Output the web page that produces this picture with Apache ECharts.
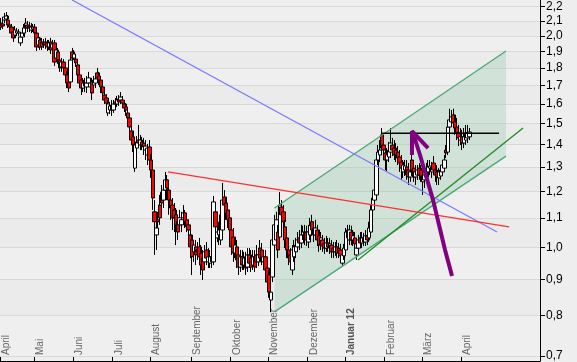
<!DOCTYPE html>
<html>
<head>
<meta charset="utf-8">
<script src="https://cdn.jsdelivr.net/npm/echarts@6/dist/echarts.min.js"></script>
<style>
html,body{margin:0;padding:0;background:#eeeeee;}
#c{width:577px;height:362px;}
</style>
</head>
<body>
<div id="c"></div>
<script>
// ---- calendar ----
const START_DATE = '2011-04-01';
const HOLIDAYS = ['2011-04-22','2011-04-25','2011-12-26','2012-04-06','2012-04-09'];
const N_SLOTS = 302;
const MONTH_NAMES = ['Januar','Februar','März','April','Mai','Juni','Juli','August','September','Oktober','November','Dezember'];
const Y_TICKS = [0.7,0.8,0.9,1.0,1.1,1.2,1.3,1.4,1.5,1.6,1.7,1.8,1.9,2.0,2.1,2.2];
const Y_MIN = 0.6886, Y_MAX = 2.249;

// ---- daily prices ----
const opens = [2.085,2.079,2.106,2.113,2.106,2.072,2.058,2.025,2.005,2.018,
2.018,1.954,1.992,2.018,2.052,2.072,2.065,2.038,2.045,2.058,
2.018,1.941,1.973,1.960,1.941,1.960,1.954,1.928,1.960,1.922,
1.954,1.859,1.897,1.847,1.806,1.835,1.800,1.759,1.719,1.719,
1.897,1.859,1.853,1.818,1.759,1.730,1.685,1.713,1.691,1.713,
1.691,1.719,1.702,1.713,1.771,1.753,1.730,1.691,1.647,1.631,
1.553,1.568,1.594,1.568,1.610,1.599,1.626,1.620,1.620,1.599,
1.584,1.553,1.528,1.464,1.436,1.296,1.384,1.421,1.398,1.412,
1.407,1.375,1.353,1.389,1.331,1.288,1.123,1.041,1.094,1.148,
1.198,1.167,1.206,1.247,1.206,1.167,1.148,1.130,1.112,1.087,
1.076,1.076,1.101,1.119,1.094,1.076,1.041,1.024,0.985,1.001,
0.991,1.001,0.981,0.965,0.953,0.991,0.953,0.949,0.969,0.953,
1.123,1.031,1.041,1.024,1.058,1.179,1.156,1.130,1.101,1.058,
1.034,0.981,1.001,0.975,0.937,0.969,0.943,0.965,0.937,0.975,
0.965,0.943,0.969,0.975,0.953,0.997,0.991,0.953,0.969,0.934,
0.913,0.841,0.907,1.007,1.024,1.051,1.034,1.141,1.123,1.069,
1.031,0.991,0.975,0.928,0.969,0.985,1.001,1.031,1.014,1.041,
1.031,1.051,1.017,1.041,1.087,1.065,1.041,1.058,1.038,1.007,
1.024,1.011,0.997,1.014,1.001,1.007,0.997,0.985,1.001,0.997,
0.991,0.949,0.972,0.991,1.058,1.024,1.051,1.024,1.031,0.975,
0.997,1.031,1.014,1.031,1.017,1.038,1.031,1.051,1.130,1.167,
1.187,1.331,1.353,1.445,1.398,1.362,1.331,1.344,1.366,1.398,
1.384,1.375,1.366,1.344,1.322,1.280,1.288,1.301,1.288,1.259,
1.331,1.296,1.259,1.267,1.296,1.288,1.239,1.247,1.259,1.280,
1.296,1.280,1.318,1.288,1.280,1.255,1.263,1.280,1.296,1.375,
1.366,1.483,1.508,1.543,1.508,1.483,1.455,1.421,1.436,1.407,
1.421,1.431,1.436];
const closes = [2.058,2.065,2.127,2.134,2.072,2.058,2.018,1.986,2.038,2.031,
2.025,1.992,2.018,2.052,2.085,2.052,2.052,2.058,2.058,2.018,
1.928,1.986,1.928,1.928,1.954,1.941,1.928,1.954,1.909,1.947,
1.835,1.909,1.847,1.800,1.835,1.800,1.759,1.713,1.685,1.847,
1.859,1.884,1.830,1.759,1.713,1.685,1.713,1.696,1.713,1.742,
1.713,1.658,1.730,1.736,1.742,1.730,1.691,1.658,1.620,1.604,
1.599,1.589,1.568,1.599,1.599,1.620,1.610,1.636,1.604,1.578,
1.568,1.528,1.483,1.421,1.398,1.398,1.412,1.407,1.421,1.398,
1.389,1.393,1.384,1.331,1.288,1.175,1.087,1.065,1.087,1.101,
1.156,1.206,1.247,1.214,1.167,1.137,1.101,1.101,1.076,1.051,
1.101,1.094,1.119,1.087,1.069,1.058,1.001,0.969,1.007,0.975,
0.985,0.969,0.943,0.928,0.985,0.965,0.969,0.969,0.953,1.160,
1.069,1.051,1.058,1.112,1.167,1.148,1.119,1.094,1.058,1.001,
0.981,1.007,0.959,0.937,0.969,0.943,0.965,0.934,0.975,0.949,
0.937,0.969,0.937,0.953,0.975,0.965,0.965,0.969,0.928,0.892,
0.863,0.863,1.024,1.076,1.094,0.991,1.148,1.112,1.087,1.024,
0.991,0.965,0.953,0.991,1.001,1.007,1.024,1.014,1.041,1.051,
1.051,1.024,1.051,1.073,1.058,1.041,1.065,1.024,1.007,1.031,
1.004,0.997,1.014,1.001,1.011,0.985,0.985,1.001,0.981,0.981,
0.972,0.975,0.997,1.051,1.031,1.058,1.024,1.038,1.011,0.997,
1.024,1.014,1.031,1.017,1.038,1.024,1.065,1.130,1.175,1.206,
1.331,1.366,1.375,1.384,1.375,1.331,1.353,1.375,1.407,1.375,
1.353,1.353,1.340,1.318,1.296,1.309,1.305,1.267,1.259,1.280,
1.288,1.259,1.280,1.288,1.267,1.263,1.263,1.267,1.288,1.301,
1.305,1.301,1.288,1.267,1.259,1.280,1.288,1.309,1.331,1.362,
1.483,1.518,1.533,1.503,1.478,1.455,1.431,1.436,1.407,1.436,
1.455,1.455,1.459];
const lows = [2.038,2.045,2.085,2.092,2.052,2.038,1.998,1.960,1.986,1.998,
1.998,1.935,1.973,1.998,2.031,2.025,2.025,2.018,2.025,1.998,
1.903,1.922,1.909,1.909,1.922,1.916,1.903,1.909,1.884,1.897,
1.812,1.835,1.824,1.777,1.777,1.765,1.730,1.685,1.663,1.702,
1.835,1.847,1.806,1.742,1.685,1.647,1.663,1.663,1.658,1.696,
1.663,1.620,1.674,1.685,1.719,1.702,1.658,1.620,1.599,1.578,
1.538,1.548,1.538,1.553,1.578,1.584,1.589,1.599,1.584,1.558,
1.538,1.508,1.459,1.398,1.366,1.280,1.366,1.384,1.375,1.375,
1.353,1.331,1.309,1.305,1.255,1.130,0.975,0.991,1.065,1.076,
1.112,1.137,1.187,1.167,1.112,1.094,1.058,1.051,1.007,1.024,
1.051,1.051,1.076,1.065,1.051,1.024,0.965,0.913,0.953,0.943,
0.959,0.943,0.913,0.898,0.934,0.943,0.934,0.934,0.934,0.943,
1.041,1.017,1.007,1.007,1.041,1.130,1.094,1.065,1.031,0.975,
0.953,0.965,0.934,0.913,0.922,0.928,0.928,0.913,0.922,0.934,
0.922,0.928,0.922,0.934,0.940,0.953,0.943,0.934,0.913,0.875,
0.847,0.808,0.892,0.991,1.007,0.965,1.017,1.087,1.065,0.997,
0.965,0.943,0.928,0.913,0.953,0.965,0.985,0.991,0.997,1.024,
1.007,1.004,0.997,1.024,1.038,1.017,1.024,1.004,0.985,0.991,
0.985,0.978,0.985,0.985,0.978,0.965,0.965,0.972,0.965,0.965,
0.953,0.940,0.959,0.978,1.017,1.007,1.007,1.004,0.991,0.959,
0.985,0.997,0.997,1.004,1.004,1.007,1.017,1.038,1.116,1.148,
1.175,1.309,1.322,1.353,1.340,1.288,1.280,1.322,1.340,1.348,
1.331,1.322,1.309,1.280,1.247,1.255,1.263,1.247,1.226,1.239,
1.263,1.239,1.226,1.247,1.247,1.239,1.187,1.214,1.235,1.255,
1.267,1.255,1.267,1.239,1.226,1.226,1.247,1.263,1.280,1.340,
1.353,1.469,1.488,1.478,1.445,1.421,1.393,1.398,1.375,1.384,
1.398,1.407,1.421];
const highs = [2.120,2.113,2.155,2.162,2.141,2.099,2.079,2.052,2.065,2.052,
2.045,2.018,2.038,2.079,2.120,2.099,2.092,2.085,2.079,2.079,
2.038,2.018,1.992,1.986,1.979,1.986,1.973,1.973,1.986,1.973,
1.973,1.935,1.922,1.872,1.859,1.853,1.824,1.782,1.742,1.872,
1.922,1.909,1.878,1.835,1.788,1.759,1.742,1.742,1.753,1.777,
1.742,1.742,1.753,1.765,1.800,1.777,1.753,1.708,1.674,1.652,
1.620,1.610,1.620,1.620,1.631,1.642,1.647,1.663,1.642,1.620,
1.604,1.578,1.543,1.488,1.459,1.417,1.440,1.493,1.445,1.436,
1.431,1.421,1.403,1.421,1.357,1.309,1.167,1.087,1.123,1.187,
1.226,1.222,1.280,1.267,1.235,1.187,1.175,1.156,1.137,1.112,
1.130,1.123,1.148,1.130,1.112,1.094,1.065,1.041,1.024,1.024,
1.017,1.031,1.007,0.991,1.007,1.017,0.997,0.991,0.991,1.183,
1.148,1.076,1.087,1.148,1.235,1.206,1.175,1.148,1.123,1.076,
1.065,1.031,1.024,0.997,0.991,0.991,0.985,0.985,0.997,0.997,
0.991,0.991,0.991,1.007,0.997,1.024,1.014,0.991,0.991,0.953,
0.928,0.884,1.051,1.112,1.123,1.076,1.198,1.167,1.148,1.094,
1.051,1.007,0.997,1.007,1.024,1.031,1.051,1.058,1.076,1.073,
1.076,1.073,1.076,1.101,1.112,1.087,1.094,1.076,1.058,1.051,
1.041,1.031,1.038,1.031,1.031,1.024,1.017,1.017,1.024,1.014,
1.011,0.991,1.011,1.065,1.076,1.076,1.073,1.058,1.051,1.014,
1.041,1.051,1.051,1.048,1.058,1.058,1.087,1.148,1.198,1.226,
1.353,1.398,1.421,1.478,1.445,1.398,1.384,1.412,1.478,1.431,
1.421,1.407,1.393,1.375,1.353,1.331,1.331,1.331,1.318,1.309,
1.353,1.331,1.309,1.309,1.318,1.309,1.288,1.288,1.318,1.331,
1.331,1.322,1.348,1.318,1.309,1.296,1.309,1.331,1.353,1.398,
1.518,1.575,1.568,1.575,1.543,1.528,1.493,1.478,1.469,1.478,
1.493,1.493,1.478];

// ---- drawn studies: [trading-day position, price] ----
const blueLine = [[40.3, 2.249], [278.0, 1.051]];
const redLine = [[94.0, 1.280], [284.7, 1.069]];
const channelUpper = [[153.5, 1.137], [283.0, 1.903]];
const channelLower = [[153.5, 0.809], [283.0, 1.348]];
const greenLine = [[200.2, 0.959], [292.5, 1.478]];
const blackLine = [[213.6, 1.453], [279.1, 1.453]];
const arrowShaft = [[252.8, 0.910], [248.9, 0.991], [242.2, 1.167], [234.9, 1.353], [231.0, 1.453]];
const arrowHead = [[230.4, 1.353], [230.4, 1.463], [239.4, 1.384]];

// ---- build categories ----
function pad(n){return n<10?'0'+n:''+n;}
const categories = [];
(function(){
  const d = new Date(START_DATE + 'T00:00:00Z');
  while (categories.length < N_SLOTS) {
    const wd = d.getUTCDay();
    const s = d.getUTCFullYear()+'-'+pad(d.getUTCMonth()+1)+'-'+pad(d.getUTCDate());
    if (wd !== 0 && wd !== 6 && HOLIDAYS.indexOf(s) < 0) categories.push(s);
    d.setUTCDate(d.getUTCDate()+1);
  }
})();
function isMonthStart(i){
  if (i >= opens.length) return false;
  if (i === 0) return true;
  return categories[i].slice(0,7) !== categories[i-1].slice(0,7);
}
const candleData = opens.map((o,i)=>[o, closes[i], lows[i], highs[i]]);

const chart = echarts.init(document.getElementById('c'), null, {renderer:'canvas'});
const FONT = 'Liberation Sans, Arial, sans-serif';
function lineSeries(data, color, width, z){
  return {type:'line', xAxisIndex:1, yAxisIndex:0, data:data, symbol:'none', silent:true,
    lineStyle:{color:color, width:width}, z:z, animation:false};
}
chart.setOption({
  animation:false,
  backgroundColor:'#eeeeee',
  grid:{left:0, right:37, top:0, bottom:1, containLabel:false},
  xAxis:[{
    type:'category', data:categories, boundaryGap:true,
    axisLine:{show:true, onZero:false, lineStyle:{color:'#000', width:1}},
    axisTick:{show:true, inside:true, length:4, interval:(i)=>isMonthStart(i), lineStyle:{color:'#000'}},
    axisLabel:{show:true, inside:true, rotate:90, interval:(i)=>isMonthStart(i), margin:6,
      color:'#666', fontSize:10, fontFamily:FONT, padding:[11,0,0,0],
      formatter:function(v){
        const m = parseInt(v.slice(5,7),10)-1;
        if (m===0) return '{b|'+MONTH_NAMES[m]+' '+v.slice(2,4)+'}';
        return MONTH_NAMES[m];
      },
      rich:{b:{fontWeight:'bold', color:'#555', fontSize:10, fontFamily:FONT}}
    },
    splitLine:{show:false}
  },{
    type:'value', min:0, max:N_SLOTS, show:false
  }],
  yAxis:{
    type:'log', logBase:10, min:Y_MIN, max:Y_MAX, position:'right',
    axisLine:{show:true, onZero:false, lineStyle:{color:'#000'}},
    axisTick:{show:true, customValues:Y_TICKS, length:5, lineStyle:{color:'#000'}},
    axisLabel:{customValues:Y_TICKS, color:'#000', fontSize:12, fontFamily:FONT, margin:6,
      formatter:(v)=>Number(v).toFixed(1).replace('.',',')},
    splitLine:{show:true, lineStyle:{color:'#d9d9d9', width:1}},
    splitArea:{show:true, areaStyle:{color:['#efefef','#ebebeb']}}
  },
  series:[
    {type:'custom', xAxisIndex:1, yAxisIndex:0, data:[0], silent:true, z:1,
      renderItem:function(params, api){
        const p1 = api.coord(channelUpper[0]), p2 = api.coord(channelUpper[1]);
        const p3 = api.coord(channelLower[1]), p4 = api.coord(channelLower[0]);
        return {type:'polygon', shape:{points:[p1,p2,p3,p4]},
          style:{fill:'rgba(140,195,165,0.3)', stroke:null}};
      }
    },
    {type:'candlestick', data:candleData, barWidth:4, z:3, silent:true,
      itemStyle:{color:'#ffffff', color0:'#ff0000', borderColor:'#000', borderColor0:'#000', borderWidth:1}},
    lineSeries(channelUpper, '#4aa878', 1.3, 5),
    lineSeries(channelLower, '#4aa878', 1.3, 5),
    lineSeries(greenLine, '#1f8a1f', 1.3, 5),
    lineSeries(blueLine, '#7b7bff', 1.3, 5),
    lineSeries(redLine, '#ff3030', 1.3, 5),
    lineSeries(blackLine, '#000000', 1.3, 6),
    lineSeries(arrowShaft, '#800080', 4, 7),
    lineSeries(arrowHead, '#800080', 4, 7)
  ]
});
</script>
</body>
</html>
